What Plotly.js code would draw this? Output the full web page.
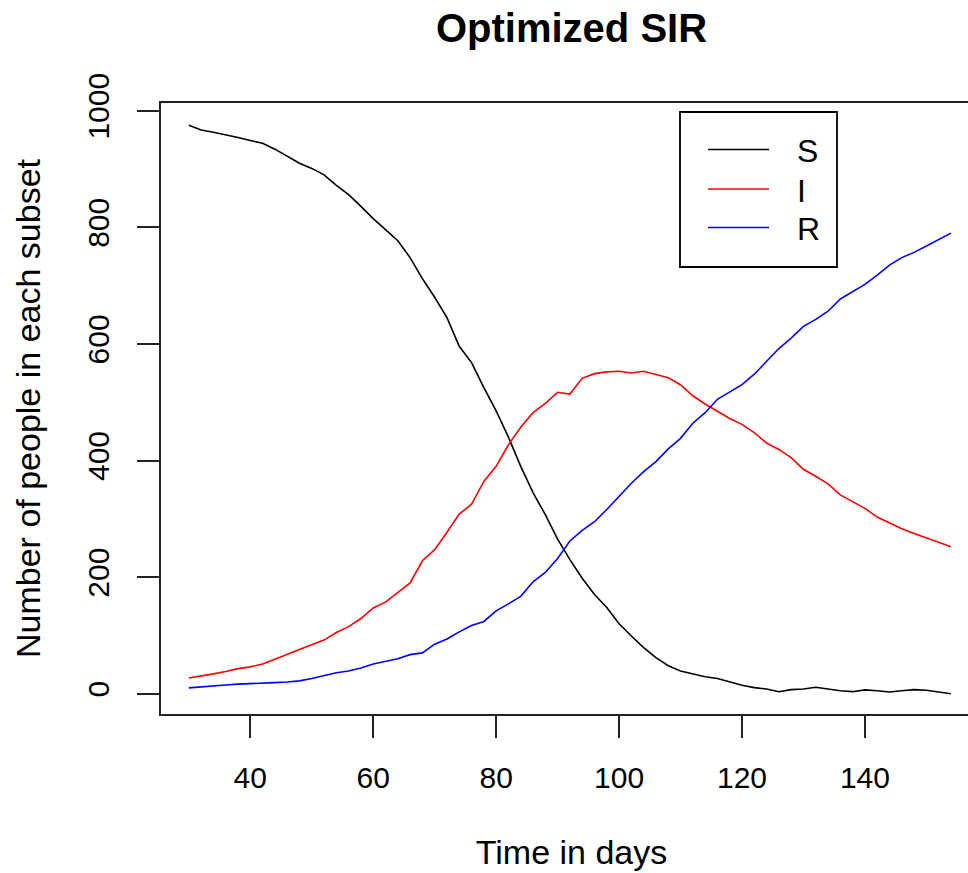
<!DOCTYPE html>
<html>
<head>
<meta charset="utf-8">
<script src="https://cdn.plot.ly/plotly-3.0.1.min.js"></script>
<style>
  html, body { margin: 0; padding: 0; overflow: hidden; background: #fff; }
  #chart { width: 1000px; height: 873px; }
</style>
</head>
<body>
<div id="chart"></div>
<script>
// ---- Data ----
const days = [30,32,34,36,38,40,42,44,46,48,50,52,54,56,58,60,62,64,66,68,70,72,74,76,78,80,82,84,86,88,90,92,94,96,98,100,102,104,106,108,110,112,114,116,118,120,122,124,126,128,130,132,134,136,138,140,142,144,146,148,150,152,154];
const S = [975,967,963,959,954,949,944,934,922,910,901,890,872,856,836,815,796,777,748,712,680,645,596,568,525,485,440,390,345,307,265,230,198,170,148,120,99,79,62,48,39,34.5,29,26,20,14.5,10.5,8,3.5,7,8,11,8,5,3.5,6.5,5,3,5,7,6,3.5,0];
const I = [27,30,34,38,43,46,51,59,68,76,84,92,105,115,129,147,157,173,190,228,247,277,308,325,364,390,427,457,482,498,517,514,541,549,552,553,550,553,548,542,530,511,497,484,472,462,448,430,419,405,385,373,360,341,330,318,303,293,283,275,268,260,252];
const R = [10,12,13.5,15,16.5,17,18,19,20,22,26,31,36,39,44,51,56,60,67,70,85,94,106,117,124,142,154,167,192,208,232,262,280,295,316,338,361,381,398,420,438,464,482,505,518,530,548,570,592,610,630,642,656,677,690,702,718,735,748,757,768,779,790];
const seriesNames = ['S', 'I', 'R'];
const seriesValues = [S, I, R];
const seriesColors = ['#000000', '#ff0000', '#0000ff'];
const xTicks = [40, 60, 80, 100, 120, 140];
const yTicks = [0, 200, 400, 600, 800, 1000];

// ---- Geometry ----
const FONT = 'Liberation Sans, Arial, Helvetica, sans-serif';
const L = 161, T = 103, PW = 821, PH = 611;
const px2x = px => (px - L) / PW;
const py2y = py => (T + PH - py) / PH;

const traces = seriesNames.map((n, i) => ({
  type: 'scatter', mode: 'lines', name: n,
  x: days, y: seriesValues[i],
  line: { color: seriesColors[i], width: 1.6 },
  showlegend: false, hoverinfo: 'x+y+name'
}));

// custom legend (R style box)
const legendRowsY = [149.5, 189, 227.5];
const shapes = [{
  type: 'rect', xref: 'paper', yref: 'paper',
  x0: px2x(680), x1: px2x(837), y0: py2y(112), y1: py2y(267),
  line: { color: '#000', width: 1.8 }, fillcolor: 'rgba(255,255,255,1)'
}];
const annotations = [];
seriesNames.forEach((n, i) => {
  shapes.push({
    type: 'line', xref: 'paper', yref: 'paper',
    x0: px2x(708), x1: px2x(769), y0: py2y(legendRowsY[i]), y1: py2y(legendRowsY[i]),
    line: { color: seriesColors[i], width: 1.6 }
  });
  annotations.push({
    xref: 'paper', yref: 'paper', x: px2x(795), y: py2y(legendRowsY[i] + 1.5),
    xanchor: 'left', yanchor: 'middle', showarrow: false,
    text: n, font: { family: FONT, size: 32, color: '#000' }
  });
});

const axisCommon = {
  showgrid: false, zeroline: false, showline: true, mirror: true,
  linecolor: '#222', linewidth: 2,
  ticks: 'outside', ticklen: 22, tickwidth: 1.6, tickcolor: '#222',
  tickfont: { family: FONT, size: 30, color: '#000' },
  fixedrange: true
};

const layout = {
  width: 1000, height: 873,
  margin: { l: L, r: 1000 - L - PW, t: T, b: 873 - T - PH, pad: 0 },
  paper_bgcolor: '#fff', plot_bgcolor: '#fff',
  font: { family: FONT, color: '#000' },
  title: {
    text: '<b>Optimized SIR</b>',
    font: { family: FONT, size: 40, color: '#000' },
    xref: 'paper', x: 0.5, xanchor: 'center',
    yref: 'container', y: 1 - 28 / 873, yanchor: 'middle'
  },
  xaxis: Object.assign({}, axisCommon, {
    range: [25.47, 159.05], tickvals: xTicks, ticktext: xTicks.map(String),
    ticklabelstandoff: 14,
    title: { text: 'Time in days', font: { family: FONT, size: 34, color: '#000' }, standoff: 47 }
  }),
  yaxis: Object.assign({}, axisCommon, {
    range: [-34.8, 1013.2], tickvals: yTicks, ticktext: yTicks.map(String),
    tickangle: -90, ticklabelstandoff: 16,
    title: { text: 'Number of people in each subset', font: { family: FONT, size: 34, color: '#000' }, standoff: 31 }
  }),
  shapes: shapes,
  annotations: annotations,
  showlegend: false
};

Plotly.newPlot('chart', traces, layout, { displayModeBar: false, staticPlot: false });
</script>
</body>
</html>
